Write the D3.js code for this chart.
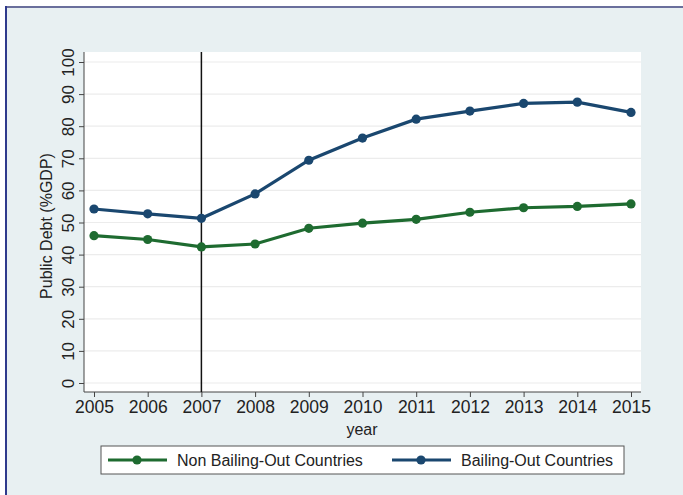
<!DOCTYPE html>
<html>
<head>
<meta charset="utf-8">
<script src="https://cdn.jsdelivr.net/npm/d3@7"></script>
<style>
  body { margin: 0; background: #fff; }
  svg { display: block; font-family: "Liberation Sans", Arial, sans-serif; }
</style>
</head>
<body>
<svg width="683" height="495"></svg>
<script>
var years = [2005, 2006, 2007, 2008, 2009, 2010, 2011, 2012, 2013, 2014, 2015];
var nonBailing = [45.9, 44.7, 42.4, 43.3, 48.2, 49.8, 51.0, 53.2, 54.6, 55.0, 55.8];
var bailing = [54.2, 52.7, 51.3, 58.9, 69.4, 76.3, 82.2, 84.7, 87.1, 87.5, 84.3];
var yTicks = [0, 10, 20, 30, 40, 50, 60, 70, 80, 90, 100];
var seriesNames = ["Non Bailing-Out Countries", "Bailing-Out Countries"];
var seriesColors = ["#1e6b30", "#1a476f"];

function main() {
  var svg = d3.select("svg");

  // outer background + frame
  svg.append("rect").attr("x", 6).attr("y", 7).attr("width", 677).attr("height", 488).attr("fill", "#e8f0f2");
  svg.append("line").attr("x1", 5).attr("x2", 683).attr("y1", 7).attr("y2", 7)
     .attr("stroke", "#6a6f9c").attr("stroke-width", 2);
  svg.append("line").attr("x1", 6).attr("x2", 6).attr("y1", 6).attr("y2", 495)
     .attr("stroke", "#2e3a8c").attr("stroke-width", 2);

  var pl = 84, pr = 641, pt = 52, pb = 392;

  var x = d3.scaleLinear().domain([2005, 2015]).range([94, 631]);
  var y = d3.scaleLinear().domain([0, 100]).range([383, 62]);

  svg.append("rect").attr("x", pl).attr("y", pt)
     .attr("width", pr - pl).attr("height", pb - pt).attr("fill", "#fff");

  // gridlines
  svg.append("g").selectAll("line").data(yTicks).enter().append("line")
     .attr("x1", pl).attr("x2", pr)
     .attr("y1", function(d) { return y(d); }).attr("y2", function(d) { return y(d); })
     .attr("stroke", "#ececec").attr("stroke-width", 1.2);

  // axes
  var yAxis = svg.append("g")
     .attr("transform", "translate(" + pl + ",0)")
     .call(d3.axisLeft(y).tickValues(yTicks).tickSize(5).tickPadding(4).tickSizeOuter(0));
  yAxis.select(".domain").attr("d", "M0," + pt + "V" + pb).attr("stroke", "#444");
  yAxis.selectAll(".tick line").attr("stroke", "#444");
  yAxis.selectAll("text")
     .attr("font-size", "17px").attr("fill", "#222")
     .attr("text-anchor", "middle")
     .attr("x", 0).attr("dy", 0)
     .attr("transform", "translate(-10.5,0) rotate(-90)");

  var xAxis = svg.append("g")
     .attr("transform", "translate(0," + pb + ")")
     .call(d3.axisBottom(x).tickValues(years).tickFormat(d3.format("d")).tickSize(5).tickPadding(4).tickSizeOuter(0));
  xAxis.select(".domain").attr("d", "M" + pl + ",0H" + pr).attr("stroke", "#444");
  xAxis.selectAll(".tick line").attr("stroke", "#444");
  xAxis.selectAll("text").attr("font-size", "17.5px").attr("fill", "#222");

  svg.append("text").attr("x", 362).attr("y", 435)
     .attr("text-anchor", "middle").attr("font-size", "16px").attr("fill", "#222").text("year");
  svg.append("text")
     .attr("transform", "translate(52,226) rotate(-90)")
     .attr("text-anchor", "middle").attr("font-size", "16px").attr("fill", "#222")
     .text("Public Debt (%GDP)");

  // vertical reference line
  svg.append("line").attr("x1", x(2007)).attr("x2", x(2007)).attr("y1", pt).attr("y2", pb)
     .attr("stroke", "#111").attr("stroke-width", 1.5);

  // series
  var line = d3.line().x(function(d) { return x(d.year); }).y(function(d) { return y(d.value); });
  [nonBailing, bailing].forEach(function(vals, i) {
    var data = years.map(function(yr, j) { return { year: yr, value: vals[j] }; });
    var g = svg.append("g");
    g.append("path").datum(data).attr("d", line)
     .attr("fill", "none").attr("stroke", seriesColors[i]).attr("stroke-width", 3.2);
    g.selectAll("circle").data(data).enter().append("circle")
     .attr("cx", function(d) { return x(d.year); })
     .attr("cy", function(d) { return y(d.value); })
     .attr("r", 4.6).attr("fill", seriesColors[i]);
  });

  // legend
  var leg = svg.append("g");
  leg.append("rect").attr("x", 101).attr("y", 446).attr("width", 523).attr("height", 28)
     .attr("fill", "#fff").attr("stroke", "#555").attr("stroke-width", 1);
  var legX = [108, 392];
  seriesNames.forEach(function(name, i) {
    var lx = legX[i];
    leg.append("line").attr("x1", lx).attr("x2", lx + 59).attr("y1", 460).attr("y2", 460)
       .attr("stroke", seriesColors[i]).attr("stroke-width", 3.2);
    leg.append("circle").attr("cx", lx + 29).attr("cy", 460).attr("r", 4.6).attr("fill", seriesColors[i]);
    leg.append("text").attr("x", lx + 69).attr("y", 466)
       .attr("font-size", "16px").attr("fill", "#222").text(name);
  });
}
main();
</script>
</body>
</html>
